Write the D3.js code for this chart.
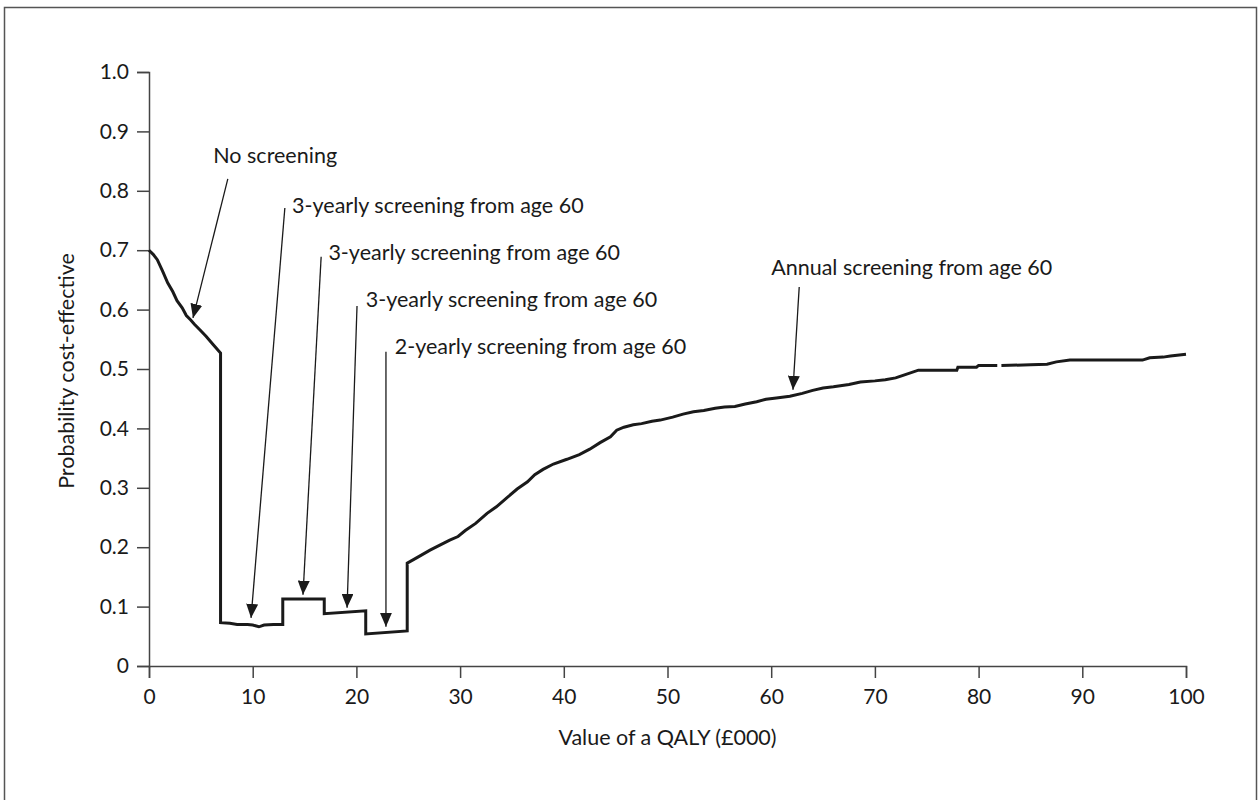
<!DOCTYPE html>
<html>
<head>
<meta charset="utf-8">
<script src="https://cdn.jsdelivr.net/npm/d3@7"></script>
<style>
  html, body { margin: 0; padding: 0; background: #fff; }
  svg { display: block; }
  text { font-family: Lato, "Open Sans", sans-serif; fill: #1a1a1a; }
</style>
</head>
<body>
<svg id="chart" width="1259" height="800"></svg>
<script>
// Willingness-to-pay threshold (£000 per QALY)
const qalyValue = [
  0, 0.4, 0.8, 1.3, 1.8, 2.3, 2.7, 3.2, 3.6, 4.0, 4.4, 4.9, 5.5, 6.2, 6.9,
  6.9, 7.8, 8.5, 9.5, 10.0, 10.6, 11.1, 12.0, 12.9,
  12.9, 16.9,
  16.9, 20.9,
  20.9, 24.9,
  24.9, 25.8, 27.1, 28.0, 29.0, 29.8, 30.5, 31.5, 32.6, 33.5, 34.5, 35.5, 36.5, 37.2,
  38.0, 39.0, 40.3, 41.5, 42.5, 43.5, 44.5, 45.1, 45.8, 46.7, 47.5, 48.5, 49.3,
  50.5, 51.5, 52.5, 53.5, 54.6, 55.5, 56.5, 57.5, 58.6, 59.5, 60.5, 61.8, 63.0,
  64.0, 65.0, 66.0, 67.5, 68.6, 70.0, 71.0, 72.0, 73.0, 74.2, 77.9, 78.0, 79.8,
  80.0, 81.8, 82.0, 82.2, 85.0, 86.6, 87.5, 88.8, 95.8, 96.5, 97.8, 98.5, 100
];

// Probability that the optimal strategy is cost-effective at each threshold
const probCostEffective = [
  0.700, 0.693, 0.684, 0.665, 0.645, 0.630, 0.615, 0.603, 0.590, 0.583, 0.575, 0.566, 0.555, 0.541, 0.527,
  0.073, 0.072, 0.070, 0.070, 0.069, 0.066, 0.069, 0.070, 0.070,
  0.113, 0.113,
  0.088, 0.093,
  0.054, 0.059,
  0.173, 0.182, 0.195, 0.203, 0.212, 0.218, 0.228, 0.240, 0.257, 0.268, 0.283, 0.298, 0.310, 0.322,
  0.331, 0.340, 0.348, 0.356, 0.365, 0.376, 0.386, 0.397, 0.402, 0.406, 0.408, 0.412, 0.414,
  0.419, 0.424, 0.428, 0.430, 0.434, 0.436, 0.437, 0.441, 0.445, 0.449, 0.451, 0.454, 0.459,
  0.464, 0.468, 0.470, 0.474, 0.478, 0.480, 0.482, 0.485, 0.491, 0.498, 0.498, 0.503, 0.503,
  0.506, 0.506, null, 0.506, 0.507, 0.508, 0.512, 0.515, 0.515, 0.519, 0.520, 0.522, 0.525
];

const xTicks = [0, 10, 20, 30, 40, 50, 60, 70, 80, 90, 100];
const yTicks = [0, 0.1, 0.2, 0.3, 0.4, 0.5, 0.6, 0.7, 0.8, 0.9, 1.0];

// Strategy annotations: label anchor, arrow tail and arrow tip (data units)
const annotationLabels = [
  "No screening",
  "3-yearly screening from age 60",
  "3-yearly screening from age 60",
  "3-yearly screening from age 60",
  "2-yearly screening from age 60",
  "Annual screening from age 60"
];
const labelX     = [6.2, 13.8, 17.3, 20.9, 23.7, 60.0];
const labelY     = [0.847, 0.763, 0.684, 0.604, 0.525, 0.658];
const arrowTailX = [7.6, 13.1, 16.6, 20.06, 22.85, 62.7];
const arrowTailY = [0.820, 0.771, 0.689, 0.606, 0.529, 0.638];
const arrowTipX  = [4.24, 9.84, 14.85, 19.1, 22.85, 62.1];
const arrowTipY  = [0.586, 0.081, 0.120, 0.098, 0.066, 0.465];

const svg = d3.select("#chart");

// Outer frame around the figure
svg.append("rect")
  .attr("x", 4.5).attr("y", 7.5)
  .attr("width", 1252).attr("height", 820)
  .attr("fill", "none")
  .attr("stroke", "#555")
  .attr("stroke-width", 1.5);

const x = d3.scaleLinear().domain([0, 100]).range([149, 1186]);
const y = d3.scaleLinear().domain([0, 1]).range([666, 72]);

const axisColor = "#444";
const labelSize = 21.5;

// X axis
const gx = svg.append("g")
  .attr("transform", `translate(0,${y(0)})`)
  .call(d3.axisBottom(x).tickValues(xTicks).tickSize(12).tickPadding(8)
    .tickFormat(d3.format("d")));
// Y axis
const gy = svg.append("g")
  .attr("transform", `translate(${x(0)},0)`)
  .call(d3.axisLeft(y).tickValues(yTicks).tickSize(12).tickPadding(8)
    .tickFormat(d => d === 0 ? "0" : d3.format(".1f")(d)));

[gx, gy].forEach(g => {
  g.selectAll("path.domain").attr("stroke", axisColor).attr("stroke-width", 1.5);
  g.selectAll(".tick line").attr("stroke", axisColor).attr("stroke-width", 1.5);
  g.selectAll(".tick text")
    .attr("font-family", "Lato, 'Open Sans', sans-serif")
    .attr("font-size", 21)
    .attr("fill", "#1a1a1a");
});
gx.selectAll(".tick text").attr("dy", "0.85em");

// Axis titles
svg.append("text")
  .attr("x", (x(0) + x(100)) / 2)
  .attr("y", 745)
  .attr("text-anchor", "middle")
  .attr("font-size", labelSize)
  .text("Value of a QALY (£000)");

svg.append("text")
  .attr("transform", `translate(74,${y(0.5) + 2}) rotate(-90)`)
  .attr("text-anchor", "middle")
  .attr("font-size", labelSize)
  .text("Probability cost-effective");

// Probability curve
const points = qalyValue.map((v, i) => ({ v, p: probCostEffective[i] }));
const line = d3.line()
  .defined(d => d.p !== null)
  .x(d => x(d.v))
  .y(d => y(d.p));

svg.append("path")
  .datum(points)
  .attr("d", line)
  .attr("fill", "none")
  .attr("stroke", "#1a1a1a")
  .attr("stroke-width", 3)
  .attr("stroke-linejoin", "miter");

// Arrowhead marker
svg.append("defs").append("marker")
  .attr("id", "arrowhead")
  .attr("markerUnits", "userSpaceOnUse")
  .attr("viewBox", "0 0 14 12")
  .attr("refX", 14).attr("refY", 6)
  .attr("markerWidth", 14).attr("markerHeight", 12)
  .attr("orient", "auto")
  .append("path")
  .attr("d", "M0,0 L14,6 L0,12 Z")
  .attr("fill", "#1a1a1a");

const ann = svg.append("g");
annotationLabels.forEach((label, i) => {
  ann.append("line")
    .attr("x1", x(arrowTailX[i])).attr("y1", y(arrowTailY[i]))
    .attr("x2", x(arrowTipX[i])).attr("y2", y(arrowTipY[i]))
    .attr("stroke", "#1a1a1a")
    .attr("stroke-width", 1.3)
    .attr("marker-end", "url(#arrowhead)");
  ann.append("text")
    .attr("x", x(labelX[i]))
    .attr("y", y(labelY[i]))
    .attr("font-size", labelSize)
    .text(label);
});
</script>
</body>
</html>
